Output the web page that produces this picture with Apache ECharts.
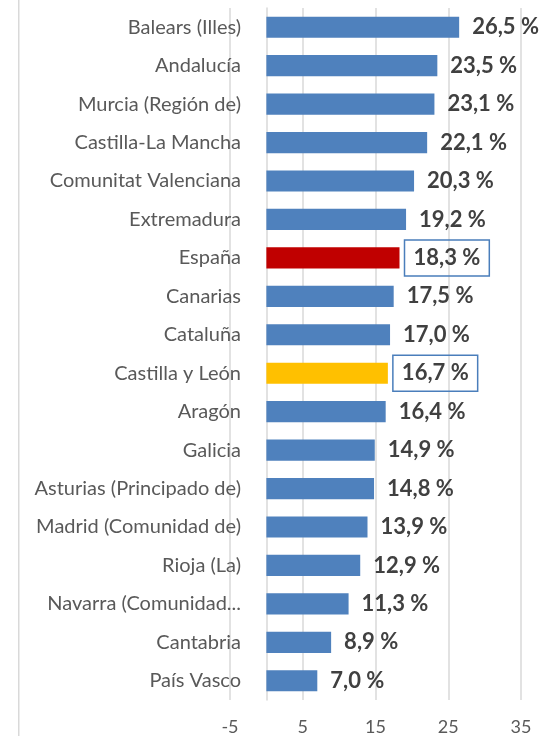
<!DOCTYPE html>
<html>
<head>
<meta charset="utf-8">
<script src="https://cdn.jsdelivr.net/npm/echarts@6/dist/echarts.min.js"></script>
<style>
  html, body { margin: 0; padding: 0; background: #fff; }
  #chart { width: 545px; height: 736px; }
</style>
</head>
<body>
<div id="chart"></div>
<script>
const regions = [
  "Balears (Illes)",
  "Andalucía",
  "Murcia (Región de)",
  "Castilla-La Mancha",
  "Comunitat Valenciana",
  "Extremadura",
  "España",
  "Canarias",
  "Cataluña",
  "Castilla y León",
  "Aragón",
  "Galicia",
  "Asturias (Principado de)",
  "Madrid (Comunidad de)",
  "Rioja (La)",
  "Navarra (Comunidad...",
  "Cantabria",
  "País Vasco",
];
const rates = [26.5, 23.5, 23.1, 22.1, 20.3, 19.2, 18.3, 17.5, 17.0, 16.7, 16.4, 14.9, 14.8, 13.9, 12.9, 11.3, 8.9, 7.0];
const xTicks = [-5, 5, 15, 25, 35];

// España en rojo, Castilla y León en amarillo, ambas con etiqueta recuadrada
const highlight = { "España": "#c00000", "Castilla y León": "#ffc000" };

const chart = echarts.init(document.getElementById("chart"));

const fmt = (v) => v.toFixed(1).replace(".", ",") + " %";

const barData = rates.map((v, i) => {
  const name = regions[i];
  if (!highlight[name]) return v;
  return {
    value: v,
    itemStyle: { color: highlight[name] },
    label: {
      distance: 5,
      padding: [8, 9, 6, 9],
      borderColor: "#4a7ebb",
      borderWidth: 1.5,
    },
  };
});

chart.setOption({
  animation: false,
  grid: { left: 230, right: 24, top: 8, bottom: 36, outerBoundsMode: "none" },
  graphic: [
    {
      type: "rect",
      shape: { x: 18, y: 0, width: 1.5, height: 736 },
      style: { fill: "#d9d9d9" },
    },
  ],
  xAxis: {
    type: "value",
    min: xTicks[0],
    max: xTicks[xTicks.length - 1],
    interval: 10,
    axisLine: { show: false },
    axisTick: { show: false },
    splitLine: { lineStyle: { color: "#d9d9d9", width: 1.5 } },
    axisLabel: {
      color: "#595959",
      fontSize: 18,
      fontFamily: "Lato",
      margin: 18,
    },
  },
  yAxis: {
    type: "category",
    data: regions,
    inverse: true,
    axisLine: { onZero: true, lineStyle: { color: "#d9d9d9", width: 1.5 } },
    axisTick: { show: false },
    axisLabel: {
      color: "#595959",
      fontSize: 20,
      fontFamily: "Lato",
      margin: -11,
    },
  },
  series: [
    {
      type: "bar",
      data: barData,
      barWidth: "55%",
      itemStyle: { color: "#4f81bd" },
      label: {
        show: true,
        position: "right",
        distance: 13,
        color: "#404040",
        fontSize: 22,
        fontWeight: "bold",
        fontFamily: "Lato",
        formatter: (p) => fmt(p.value),
      },
    },
  ],
});
</script>
</body>
</html>
